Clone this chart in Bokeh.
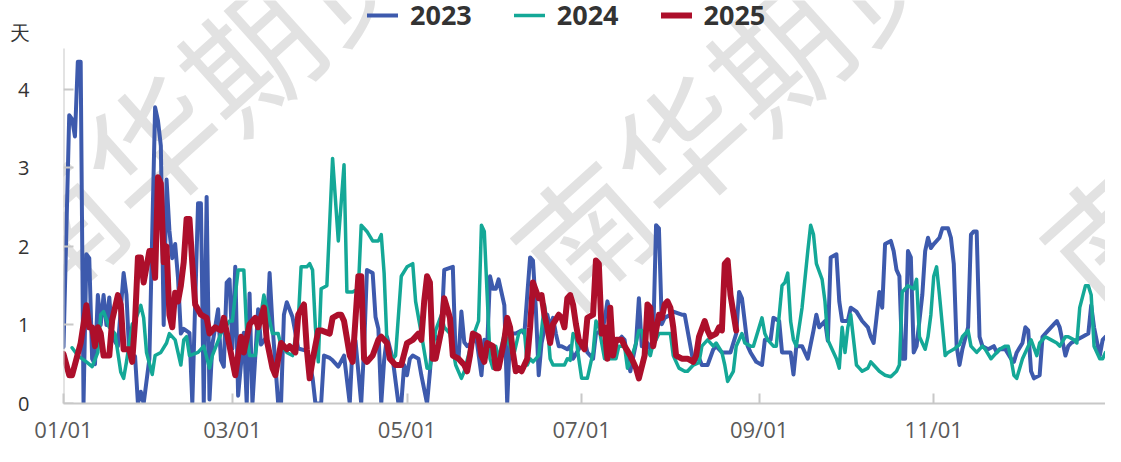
from bokeh.plotting import figure
from bokeh.models import Range1d, FixedTicker, Legend, LegendItem, Label, LinearAxis
from bokeh.embed import file_html
from bokeh.resources import INLINE

# x = day of year (0 = Jan 1), y = value in 天
day_2023 = [0, 2, 3, 4, 5, 6, 7, 8, 9, 10, 11, 12, 13, 14, 15, 16, 17, 19, 21, 22, 23, 25, 26, 27, 28, 30,
            32, 33, 34, 35, 36, 37, 38, 39, 40, 41, 42, 44, 45, 47, 48, 49, 50, 51, 52, 54, 55, 56, 57, 58,
            59, 60, 61, 63, 64, 65, 66, 68, 69, 71, 72, 73, 75, 76, 77, 78, 80, 82, 85, 87, 88, 90, 91, 93,
            94, 96, 98, 100, 101, 102, 104, 105, 106, 108, 109, 110, 111, 112, 113, 115, 117, 118, 119, 120,
            121, 122, 124, 125, 127, 128, 129, 131, 132, 133, 136, 137, 138, 139, 140, 141, 143, 144, 146,
            147, 148, 149, 150, 151, 152, 154, 155, 156, 158, 160, 161, 162, 163, 164, 165, 166, 167, 169,
            170, 171, 172, 173, 174, 176, 177, 178, 180, 182, 183, 185, 186, 188, 189, 190, 191, 192, 193,
            195, 196, 197, 198, 200, 201, 202, 204, 205, 206, 207, 208, 209, 210, 212, 213, 216, 217, 219,
            220, 222, 223, 225, 227, 228, 230, 232, 233, 235, 236, 237, 239, 240, 242, 244, 245, 247, 248,
            250, 251, 252, 254, 255, 256, 258, 260, 262, 263, 264, 266, 267, 268, 270, 271, 272, 274, 275,
            277, 279, 281, 282, 283, 284, 285, 286, 287, 289, 290, 291, 292, 293, 294, 295, 296, 297, 298,
            300, 301, 302, 303, 304, 306, 307, 309, 310, 311, 312, 313, 314, 316, 317, 318, 319, 320, 321,
            323, 325, 326, 327, 329, 331, 332, 333, 335, 336, 337, 338, 339, 341, 342, 344, 346, 347, 348,
            350, 351, 352, 354, 356, 358, 359, 360, 362, 363, 364]
val_2023 = [0.72, 3.67, 3.62, 3.40, 4.35, 4.35, 0.0, 1.90, 1.85, 0.57, 0.50, 1.38, 1.00, 1.38, 1.00, 1.35,
            0.85, 0.73, 1.66, 1.38, 0.60, 0.60, 0.0, 0.15, 0.0, 0.57,
            3.77, 3.60, 3.28, 1.00, 2.85, 2.20, 1.85, 2.03, 1.60, 0.89, 0.95, 0.90, 0.0, 2.55, 2.55, 0.0,
            2.63, 0.05, 0.75, 1.20, 0.55, 0.47, 1.54, 1.58,
            0.70, 1.74, 0.10, 0.90, 0.0, 1.40, 0.0, 1.20, 0.75, 0.85, 1.66, 1.00, 0.0, 0.0, 1.13, 1.29,
            1.10, 0.70, 0.67, 0.33, 0.0, 0.0, 0.61, 0.58,
            0.55, 0.47, 0.61, 0.0, 0.77, 0.80, 0.0, 0.70, 1.70, 1.66, 1.10, 0.95, 0.0, 0.55, 0.85, 0.57,
            0.0, 0.0, 0.49, 0.36,
            0.57, 0.61, 0.57, 0.36, 0.0, 0.40, 0.89, 0.81, 0.90, 1.70, 1.74, 0.57, 0.57, 1.17, 0.78, 0.73,
            0.78, 0.89, 0.36,
            0.81, 0.73, 1.62, 1.46, 1.46, 1.58, 1.25, 0.0, 0.89, 0.89, 0.93, 0.89, 1.38, 1.86, 1.82, 1.21,
            0.36, 0.77, 1.13,
            0.97, 1.09, 0.89, 0.73, 0.73, 0.69, 0.73, 0.57, 0.69, 0.81, 0.65, 0.57, 0.89, 0.93, 1.05, 1.30,
            1.13, 0.69, 0.77,
            0.85, 0.81, 0.57, 0.41, 0.77, 1.34, 0.73, 0.77, 0.69, 0.85, 2.27, 2.23, 1.01, 1.09, 1.13, 1.17,
            1.13, 1.13, 0.73,
            0.53, 0.58, 0.49, 0.49, 0.69, 0.73, 0.65, 0.65, 0.65, 0.89, 1.42, 1.34, 0.73, 0.65, 0.53, 0.49,
            0.81, 0.81, 1.09,
            1.05, 0.65, 0.65, 0.65, 0.37, 0.73, 0.73, 0.57, 0.93, 1.13, 0.97, 1.05, 0.80, 1.86, 1.90, 1.30,
            1.05, 1.05, 1.22,
            1.17, 1.05, 0.97, 0.85, 0.77, 1.09, 1.42, 1.22, 2.03, 2.07, 1.94, 1.70, 1.62, 0.57, 0.57, 1.94,
            1.86, 0.65, 0.73,
            1.38, 1.94, 2.11, 1.98, 2.03, 2.11, 2.23, 2.23, 2.11, 1.78, 0.73, 0.49, 0.69, 0.97, 2.15, 2.19,
            2.19, 0.85, 0.73,
            0.69, 0.73, 0.65, 0.69, 0.69, 0.57, 0.53, 0.65, 0.77, 0.97, 0.93, 0.41, 0.32, 0.36, 0.85, 0.93,
            1.01, 1.05, 0.97,
            0.61, 0.73, 0.77, 0.81, 0.85, 0.89, 1.25, 0.97, 0.61, 0.81, 0.85]

day_2024 = [3, 5, 8, 10, 12, 13, 14, 16, 18, 20, 21, 22, 24, 25, 27, 28, 29, 31, 32, 34, 36, 37, 39, 41,
            42, 43, 44, 47, 49, 51, 52, 55, 58, 59, 61, 63, 64, 65, 67, 68, 70, 71, 73, 75, 76, 78, 80, 82,
            83, 85, 86, 87, 88, 89, 90, 92, 94, 96, 98, 99, 101, 103, 104, 106, 108, 110, 111, 112, 113, 115,
            116, 118, 120, 122, 123, 125, 127, 128, 130, 132, 133, 135, 137, 139, 140, 142, 143, 145, 146,
            147, 148, 149, 150, 151, 152, 154, 156, 157, 159, 160, 161, 162, 163, 164, 166, 167, 168, 169,
            170, 171, 173, 175, 176, 177, 178, 179, 180, 181, 183, 185, 186, 187, 188, 189, 191, 193, 194,
            196, 197, 198, 200, 201, 202, 203, 205, 206, 207, 208, 209, 211, 212, 213, 215, 217, 218, 220,
            222, 223, 225, 227, 228, 230, 231, 232, 234, 235, 237, 238, 240, 241, 244, 245, 246, 248, 249,
            251, 252, 253, 254, 255, 256, 258, 260, 261, 262, 263, 265, 266, 267, 268, 270, 271, 272, 273,
            274, 275, 277, 278, 279, 281, 282, 283, 285, 287, 289, 291, 292, 293, 295, 297, 298, 299, 301,
            302, 303, 304, 305, 306, 308, 309, 311, 313, 314, 316, 317, 319, 321, 322, 324, 325, 327, 329,
            330, 331, 332, 333, 335, 337, 338, 340, 341, 343, 345, 347, 348, 350, 351, 353, 354, 355, 357,
            358, 359, 360, 362, 363, 364]
val_2024 = [0.71, 0.61, 0.53, 0.47, 0.65, 1.13, 1.17, 0.97, 0.89, 0.40, 0.32, 0.53, 1.01, 1.05, 1.25, 1.09,
            0.65, 0.37, 0.61, 0.65, 0.77, 0.89, 0.81, 0.49,
            0.81, 0.85, 0.61, 0.65, 0.73, 0.45, 0.61, 0.89, 1.05, 1.05, 1.70, 1.70, 0.89, 0.61, 0.61, 0.89,
            1.38, 1.22, 0.89, 0.89, 0.73, 0.65, 0.61, 1.05,
            1.74, 1.74, 1.78, 1.70, 0.97, 0.53, 1.46, 1.50, 3.12, 2.07, 3.04, 1.42, 1.42, 1.46, 2.27, 2.19,
            2.07, 2.07, 2.15, 1.66, 0.77, 0.57,
            0.61, 1.62, 1.74, 1.78, 1.30, 0.89, 0.45, 0.45, 0.93, 1.13, 0.97, 0.89, 0.49, 0.32, 0.41, 0.69,
            0.85, 1.05, 2.27,
            2.19, 1.38, 0.57, 0.45, 0.73, 0.57, 0.89, 0.73, 0.57, 0.89, 0.93, 0.93, 0.49, 0.57, 0.53, 0.61,
            0.93, 1.26, 1.01,
            0.57, 0.49, 0.49, 0.49, 0.57, 0.55, 0.89, 0.85, 0.57, 0.32, 0.32, 0.65, 1.05, 0.97, 0.77, 0.57,
            0.57, 0.57, 0.73,
            0.73, 0.45, 0.53, 0.77, 0.93, 0.93, 0.73, 0.61, 0.77, 0.81, 0.89, 0.89, 0.89, 0.89, 0.61, 0.45,
            0.41, 0.41, 0.49,
            0.52, 0.73, 0.81, 0.73, 0.77, 0.65, 0.49, 0.28, 0.41, 0.73, 0.89, 0.77, 0.73, 0.73, 1.09, 0.89,
            0.81, 0.73, 0.73,
            1.50, 1.54, 1.66, 1.05, 0.81, 0.73, 1.22, 1.94, 2.27, 2.15, 1.78, 1.58, 1.30, 0.81, 0.73, 0.57,
            0.45, 0.97, 0.65,
            0.97, 1.13, 0.49, 0.45, 0.41, 0.45, 0.53, 0.49, 0.41, 0.36, 0.34, 0.41, 0.49, 1.42, 1.50, 1.46,
            1.58, 0.85, 0.69,
            0.85, 1.13, 1.62, 1.74, 1.38, 0.61, 0.65, 0.69, 0.75, 0.85, 0.93, 0.73, 0.65, 0.73, 0.69, 0.57,
            0.61, 0.69, 0.73,
            0.73, 0.57, 0.36, 0.32, 0.57, 0.73, 0.81, 0.61, 0.77, 0.85, 0.81, 0.77, 0.73, 0.85, 0.85, 0.81,
            0.77, 1.22, 1.50,
            1.50, 1.38, 0.73, 0.57, 0.57, 0.65]

day_2025 = [0, 2, 3, 6, 8, 9, 10, 11, 12, 13, 14, 16, 17, 19, 20, 21, 23, 24, 25, 26, 27, 28, 30, 31, 32,
            33, 34, 35, 36, 37, 38, 39, 40, 41, 42, 43, 44, 45, 46, 48, 50, 51, 53, 55, 56, 58, 60, 61, 62,
            63, 65, 67, 68, 70, 71, 73, 74, 76, 78, 79, 81, 82, 84, 85, 86, 87, 89, 90, 93, 94, 96, 97, 98,
            100, 101, 103, 104, 105, 106, 108, 110, 111, 113, 114, 116, 118, 120, 122, 124, 125, 126, 127,
            128, 129, 130, 132, 133, 135, 136, 138, 140, 141, 142, 143, 145, 146, 147, 148, 150, 151, 152,
            154, 155, 156, 157, 158, 159, 160, 162, 163, 164, 166, 167, 168, 169, 170, 171, 173, 174, 175,
            176, 177, 178, 179, 180, 182, 183, 185, 186, 187, 188, 189, 190, 191, 192, 193, 195, 196, 198,
            200, 201, 203, 204, 205, 206, 208, 209, 210, 211, 212, 213, 214, 216, 218, 220, 221, 222, 224,
            225, 226, 228, 229, 230, 231, 232, 233, 235]
val_2025 = [0.63, 0.36, 0.36, 0.77, 1.25, 0.97, 0.97, 0.73, 0.97, 0.89, 0.61, 0.61, 1.06, 1.38, 1.26, 0.69,
            0.69, 0.53, 1.05, 1.86, 1.86, 1.54, 1.94, 1.94, 1.60,
            2.88, 2.80, 1.80, 2.00, 1.13, 0.97, 1.41, 1.30, 1.50, 1.80, 2.35, 2.35, 1.78, 1.26, 1.13, 1.09,
            0.89, 0.97, 0.93, 1.09, 0.73, 0.36, 0.61, 0.85,
            0.65, 1.01, 1.09, 0.97, 1.22, 0.81, 0.45, 0.36, 0.77, 0.69, 0.73, 0.65, 1.13, 1.26, 0.69, 0.32,
            0.55, 0.93, 0.93, 0.89, 1.09, 1.13, 1.13, 1.05,
            0.61, 0.53, 1.62, 1.62, 0.57, 0.53, 0.61, 0.81, 0.85, 0.77, 0.57, 0.49, 0.49, 0.77, 0.81, 0.89,
            0.81, 1.30, 1.62,
            1.54, 0.57, 0.57, 0.93, 1.34, 1.09, 0.61, 0.57, 0.49, 0.41, 0.61, 0.89, 0.85, 0.61, 0.53, 0.77,
            0.73, 0.45, 0.45,
            0.81, 1.09, 0.97, 0.65, 0.41, 0.45, 0.41, 0.57, 0.97, 1.54, 1.34, 1.38, 1.13, 0.97, 0.77, 1.01,
            1.13, 1.09, 0.97,
            1.34, 1.38, 1.26, 1.01, 0.81, 0.69, 1.09, 1.13, 1.82, 1.78, 0.89, 0.97, 0.57, 1.22, 0.61, 0.81,
            0.81, 0.73, 0.61,
            0.45, 0.32, 0.61, 1.26, 1.22, 0.73, 1.13, 1.09, 1.26, 1.30, 1.22, 0.97, 0.61, 0.57, 0.57, 0.53,
            0.61, 0.85, 1.05,
            0.93, 0.85, 0.89, 0.97, 0.93, 1.78, 1.82, 1.38, 0.93]

series_names = ["2023", "2024", "2025"]
series_colors = ["#3d5aad", "#14a897", "#ad0f2b"]
series_widths = [4.0, 3.5, 6.0]

tick_days = [0, 59, 120, 181, 243, 304]
tick_labels = ["01/01", "03/01", "05/01", "07/01", "09/01", "11/01"]
y_ticks = [0, 1, 2, 3, 4]
y_top = 4.52
unit_label = "天"
unit_pos = 4.72
watermark = "南华期货"

p = figure(width=1105, height=446, output_backend="svg", toolbar_location=None,
           x_range=Range1d(0, 364), y_range=Range1d(0, 5.13),
           min_border_left=63, min_border_right=0, min_border_top=0, min_border_bottom=41)
p.outline_line_color = None
p.xgrid.visible = False
p.ygrid.visible = False

# watermark (under the data)
for wx in [47.0, 231.8, 416.6]:
    p.add_layout(Label(x=wx, y=3.90, text=watermark, angle=42, angle_units="deg",
                       text_font="Noto Sans CJK SC", text_font_size="132px",
                       text_color="#e2e2e2", text_align="center", text_baseline="middle",
                       level="underlay"))

days = [day_2023, day_2024, day_2025]
vals = [val_2023, val_2024, val_2025]
renderers = []
for d, v, c, w in zip(days, vals, series_colors, series_widths):
    r = p.line(d, v, line_color=c, line_width=w, line_join="round", line_cap="round")
    renderers.append(r)

# x axis
ax = p.xaxis[0]
ax.ticker = FixedTicker(ticks=tick_days)
ax.major_label_overrides = {d: t for d, t in zip(tick_days, tick_labels)}
ax.minor_tick_line_color = None
ax.major_tick_in = 10
ax.major_tick_out = 0
ax.axis_line_color = "#c8c8c8"
ax.axis_line_width = 2
ax.major_tick_line_color = "#c8c8c8"
ax.major_tick_line_width = 2
ax.major_label_text_font = "Open Sans"
ax.major_label_text_font_size = "22px"
ax.major_label_text_color = "#5a5a5a"
ax.major_label_standoff = 10

# y axis labels (numbers plus the unit on top)
ay = p.yaxis[0]
label_ticks = y_ticks + [unit_pos]
ay.ticker = FixedTicker(ticks=label_ticks)
ay.major_label_overrides = {**{t: str(t) for t in y_ticks}, unit_pos: unit_label}
ay.minor_tick_line_color = None
ay.major_tick_line_color = None
ay.axis_line_color = None
ay.major_label_text_font = "Open Sans"
ay.major_label_text_font_size = "20px"
ay.major_label_text_color = "#333333"
ay.major_label_standoff = 28

# y axis line and ticks, limited to the plotted range
ay2 = LinearAxis(fixed_location=0, bounds=(0, y_top), ticker=FixedTicker(ticks=y_ticks),
                 major_label_overrides={t: "" for t in y_ticks})
ay2.minor_tick_line_color = None
ay2.major_tick_in = 10
ay2.major_tick_out = 0
ay2.axis_line_color = "#c8c8c8"
ay2.axis_line_width = 2
ay2.major_tick_line_color = "#c8c8c8"
ay2.major_tick_line_width = 2
ay2.major_label_standoff = 0
ay2.major_label_text_alpha = 0
p.add_layout(ay2, "left")

legend = Legend(items=[LegendItem(label=n, renderers=[r]) for n, r in zip(series_names, renderers)],
                orientation="horizontal", location=(304, 370),
                glyph_width=31, glyph_height=20, label_standoff=12, spacing=42,
                label_text_font="Open Sans", label_text_font_style="bold",
                label_text_font_size="27px", label_text_color="#333333",
                padding=0, margin=0, border_line_color=None, background_fill_alpha=0)
p.add_layout(legend, "center")

open("out.html", "w").write(file_html(p, INLINE))
